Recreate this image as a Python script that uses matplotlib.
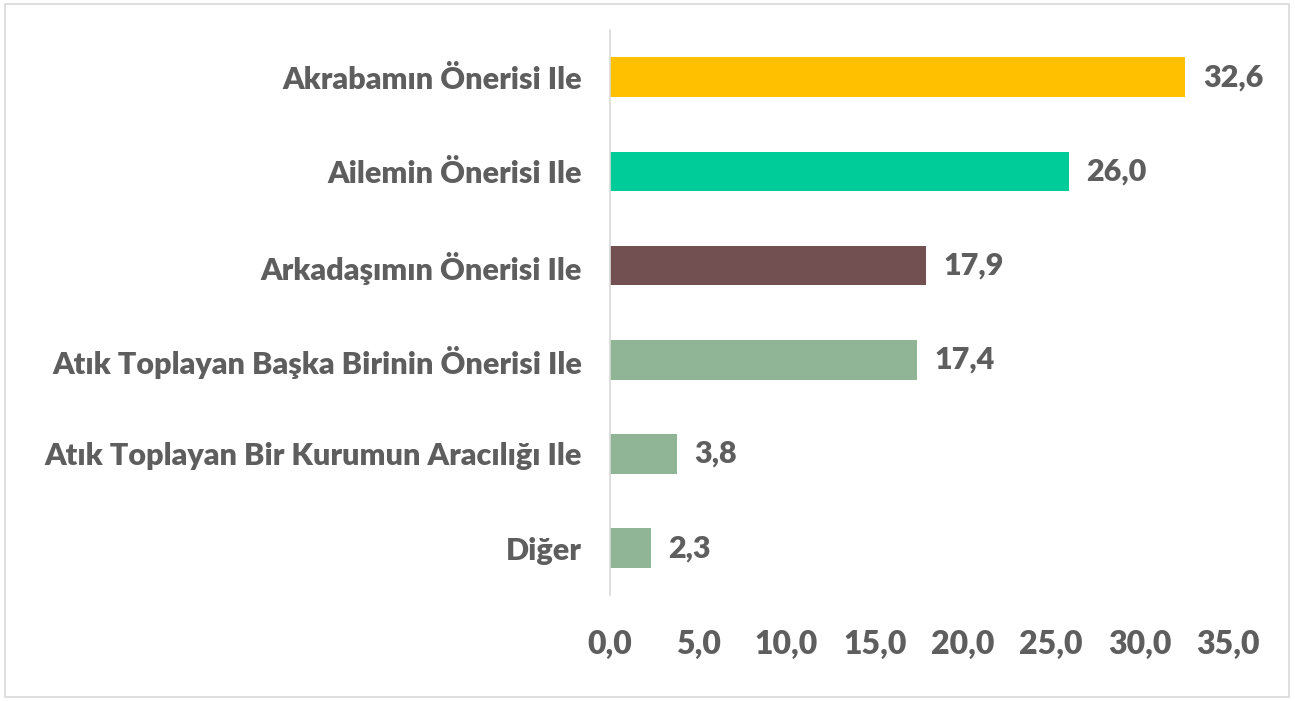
import matplotlib.pyplot as plt
from matplotlib.patches import Rectangle

# data (top to bottom)
categories = [
    'Akrabamın Önerisi Ile',
    'Ailemin Önerisi Ile',
    'Arkadaşımın Önerisi Ile',
    'Atık Toplayan Başka Birinin Önerisi Ile',
    'Atık Toplayan Bir Kurumun Aracılığı Ile',
    'Diğer',
]
values = [32.6, 26.0, 17.9, 17.4, 3.8, 2.3]
colors = ['#FFC000', '#00CC99', '#725052', '#8FB496', '#8FB496', '#8FB496']
xticks = [0, 5, 10, 15, 20, 25, 30, 35]

text_color = '#5E5E5E'
plt.rcParams['font.family'] = ['Lato', 'DejaVu Sans']

fig = plt.figure(figsize=(12.95, 7.01), dpi=100)
ax = fig.add_axes([0.471, 0.151, 0.477, 0.806])

ypos = list(range(len(categories)))[::-1]
ax.barh(ypos, values, height=0.42, color=colors)

for y, v in zip(ypos, values):
    ax.text(v + 1.0, y, f'{v:.1f}'.replace('.', ','), va='center', ha='left',
            fontsize=22, fontweight='heavy', color=text_color)

ax.set_xlim(0, 35)
ax.set_ylim(-0.5, len(categories) - 0.5)
ax.set_yticks(ypos)
ax.set_yticklabels(categories, fontsize=22, fontweight='heavy', color=text_color)
ax.set_xticks(xticks)
ax.set_xticklabels([f'{t:.1f}'.replace('.', ',') for t in xticks],
                   fontsize=23, fontweight='heavy', color=text_color)
ax.tick_params(axis='y', length=0, pad=20)
ax.tick_params(axis='x', length=0, pad=25)

for side in ['top', 'right', 'bottom']:
    ax.spines[side].set_visible(False)
ax.spines['left'].set_color('#D9D9D9')
ax.spines['left'].set_linewidth(1.2)

# light border around the chart
fig.patches.append(Rectangle((0.004, 0.005), 0.991, 0.99, transform=fig.transFigure,
                             fill=False, edgecolor='#D9D9D9', linewidth=1.2))

fig.savefig('out.png', dpi=100)
